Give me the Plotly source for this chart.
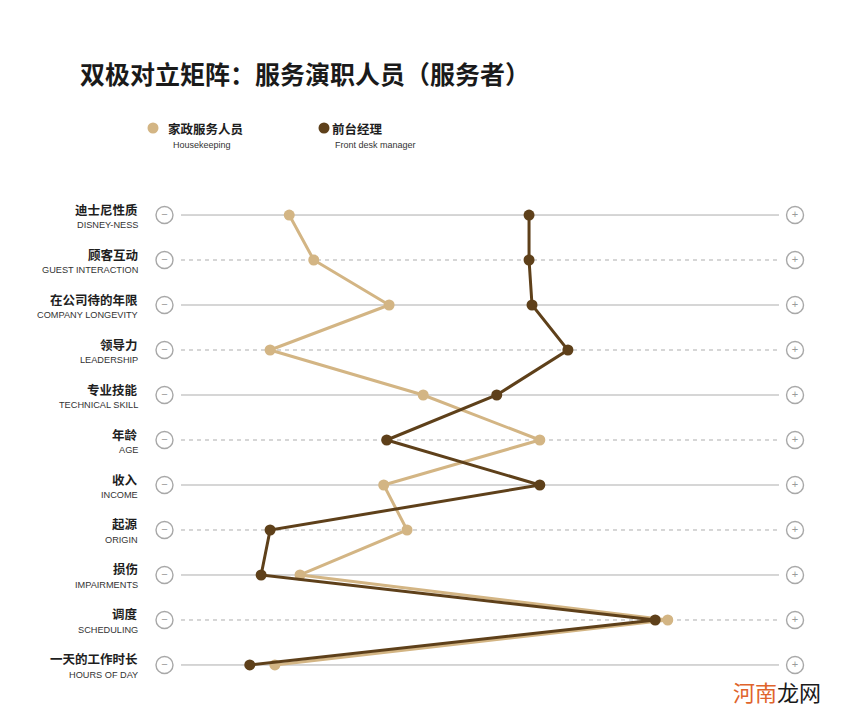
import plotly.graph_objects as go

# ---------------- data ----------------
cats_cn = ["迪士尼性质", "顾客互动", "在公司待的年限", "领导力", "专业技能", "年龄",
           "收入", "起源", "损伤", "调度", "一天的工作时长"]
cats_en = ["DISNEY-NESS", "GUEST INTERACTION", "COMPANY LONGEVITY", "LEADERSHIP",
           "TECHNICAL SKILL", "AGE", "INCOME", "ORIGIN", "IMPAIRMENTS", "SCHEDULING",
           "HOURS OF DAY"]
housekeeping = [18.1, 22.2, 34.8, 14.9, 40.5, 60.0, 33.9, 37.8, 19.9, 81.4, 15.7]
front_desk = [58.2, 58.2, 58.7, 64.7, 52.8, 34.4, 60.0, 14.9, 13.4, 79.3, 11.5]
series_cn = ["家政服务人员", "前台经理"]
series_en = ["Housekeeping", "Front desk manager"]
title_text = "双极对立矩阵：服务演职人员（服务者）"
scale_min, scale_max = 0, 100

# ---------------- styling ----------------
C_LIGHT = "#D3B584"
C_DARK = "#5E401A"
GRID = "#ADADAD"
ICON = "#A8A8A8"
CJK = "Noto Sans CJK SC"
LAT = "Liberation Sans, Arial, sans-serif"

# page body has an 8px margin: figure is drawn 8px in from the window edge
OFF = 8
FIG_W, FIG_H = 864 - OFF, 726 - OFF
PA_L, PA_W = 150, 660      # plot area, page pixels
PA_T, PA_B = 190, 690

rows = list(range(len(cats_cn)))

fig = go.Figure()

# row guide lines
for i in rows:
    fig.add_shape(type="line", x0=scale_min, x1=scale_max, y0=i, y1=i,
                  xref="x", yref="y",
                  line=dict(color=GRID, width=1, dash="solid" if i % 2 == 0 else "4px,4px"),
                  layer="below")

# minus / plus icons
minus_x = scale_min - 2.76
plus_x = scale_max + 2.68
for xv, sym in [(minus_x, "−"), (plus_x, "+")]:
    fig.add_trace(go.Scatter(
        x=[xv] * len(rows), y=rows, mode="markers+text",
        marker=dict(symbol="circle-open", size=17, color=ICON, line=dict(width=1.4, color=ICON)),
        text=[sym] * len(rows), textposition="middle center",
        textfont=dict(size=11, color="#9A9A9A", family=LAT),
        hoverinfo="skip", showlegend=False, cliponaxis=False))

# series
fig.add_trace(go.Scatter(x=housekeeping, y=rows, mode="lines+markers", name=series_cn[0],
                         line=dict(color=C_LIGHT, width=3),
                         marker=dict(color=C_LIGHT, size=11), showlegend=False))
fig.add_trace(go.Scatter(x=front_desk, y=rows, mode="lines+markers", name=series_cn[1],
                         line=dict(color=C_DARK, width=3),
                         marker=dict(color=C_DARK, size=11), showlegend=False))


def px(xp):
    return (xp - PA_L) / PA_W


def py(yp):
    return (PA_B - yp) / (PA_B - PA_T)


# row labels
ann = []
for i in rows:
    ann.append(dict(x=px(140), y=i, xref="paper", yref="y", xanchor="right", yanchor="middle",
                    yshift=6, text=cats_cn[i], showarrow=False,
                    font=dict(family=CJK, size=12.5, color="#1E1E1E", weight=700)))
    ann.append(dict(x=px(140), y=i, xref="paper", yref="y", xanchor="right", yanchor="middle",
                    yshift=-10, text=cats_en[i], showarrow=False,
                    font=dict(family=LAT, size=9.2, color="#333333")))

# legend
legend_items = [(153, 166, 171, C_LIGHT), (324, 330, 333, C_DARK)]
for k, (mx, tx, ex, col) in enumerate(legend_items):
    r = 5.5
    fig.add_shape(type="circle", xref="paper", yref="paper",
                  x0=px(mx - r), x1=px(mx + r), y0=py(128 + r), y1=py(128 - r),
                  fillcolor=col, line=dict(width=0))
    ann.append(dict(x=px(tx), y=py(129), xref="paper", yref="paper", xanchor="left",
                    yanchor="middle", text=series_cn[k], showarrow=False,
                    font=dict(family=CJK, size=12.5, color="#1E1E1E", weight=700)))
    ann.append(dict(x=px(ex), y=py(145), xref="paper", yref="paper", xanchor="left",
                    yanchor="middle", text=series_en[k], showarrow=False,
                    font=dict(family=LAT, size=9, color="#333333")))

# watermark
ann.append(dict(x=px(823), y=py(691), xref="paper", yref="paper", xanchor="right",
                yanchor="middle", showarrow=False,
                text="<span style='color:#E0642C'>河南</span><span style='color:#1A1A1A'>龙网</span>",
                font=dict(family=CJK, size=22)))

fig.update_layout(
    width=FIG_W, height=FIG_H,
    margin=dict(l=PA_L - OFF, r=FIG_W - (PA_L - OFF) - PA_W, t=PA_T - OFF, b=FIG_H - (PA_B - OFF)),
    paper_bgcolor="white", plot_bgcolor="white",
    title=dict(text=title_text, x=(80 - OFF) / FIG_W, xanchor="left",
               y=1 - (75 - OFF) / FIG_H, yanchor="middle",
               yref="container", xref="container",
               font=dict(family=CJK, size=25, color="#1A1A1A", weight=700)),
    xaxis=dict(range=[-5.184, 105.184], visible=False, fixedrange=True),
    yaxis=dict(range=[10.556, -0.556], visible=False, fixedrange=True),
    annotations=ann,
    showlegend=False,
)

fig.write_html("out.html")
